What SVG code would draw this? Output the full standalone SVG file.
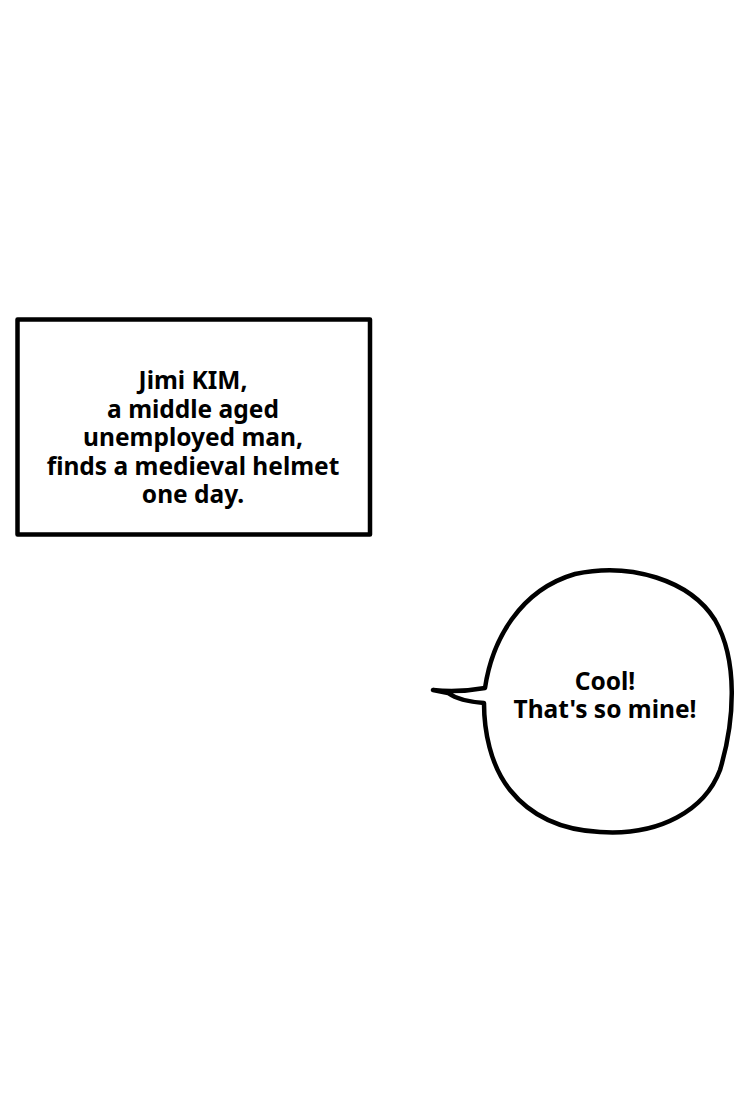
<svg xmlns="http://www.w3.org/2000/svg" width="750" height="1112" viewBox="0 0 750 1112">
<style>
.t{font-family:"Noto Sans","DejaVu Sans",sans-serif;font-weight:bold;font-size:24.5px;fill:#000;text-anchor:middle}
.ln{fill:#fff;stroke:#000;stroke-width:4.5;stroke-linejoin:round}
</style>
<rect width="750" height="1112" fill="#fff"/>
<g id="caption">
<rect class="ln" x="17.5" y="319.5" width="352.5" height="215"/>
<text class="t" x="193" y="389">Jimi KIM,</text>
<text class="t" x="193" y="417.5">a middle aged</text>
<text class="t" x="193" y="446">unemployed man,</text>
<text class="t" x="193" y="474.5">finds a medieval helmet</text>
<text class="t" x="193" y="503">one day.</text>
</g>
<g id="bubble">
<path class="ln" d="M485,688 C492,640 520,590 575,574 C630,562 690,580 715,620 C738,660 735,720 720,770 C705,810 660,836 600,832 C560,830 530,815 510,790 C490,765 484,730 484,703 C470,702 458,700 448,693 L433,690 C450,692 468,691 485,688 Z"/>
<text class="t" x="605" y="690">Cool!</text>
<text class="t" x="605" y="718">That's so mine!</text>
</g>
</svg>
